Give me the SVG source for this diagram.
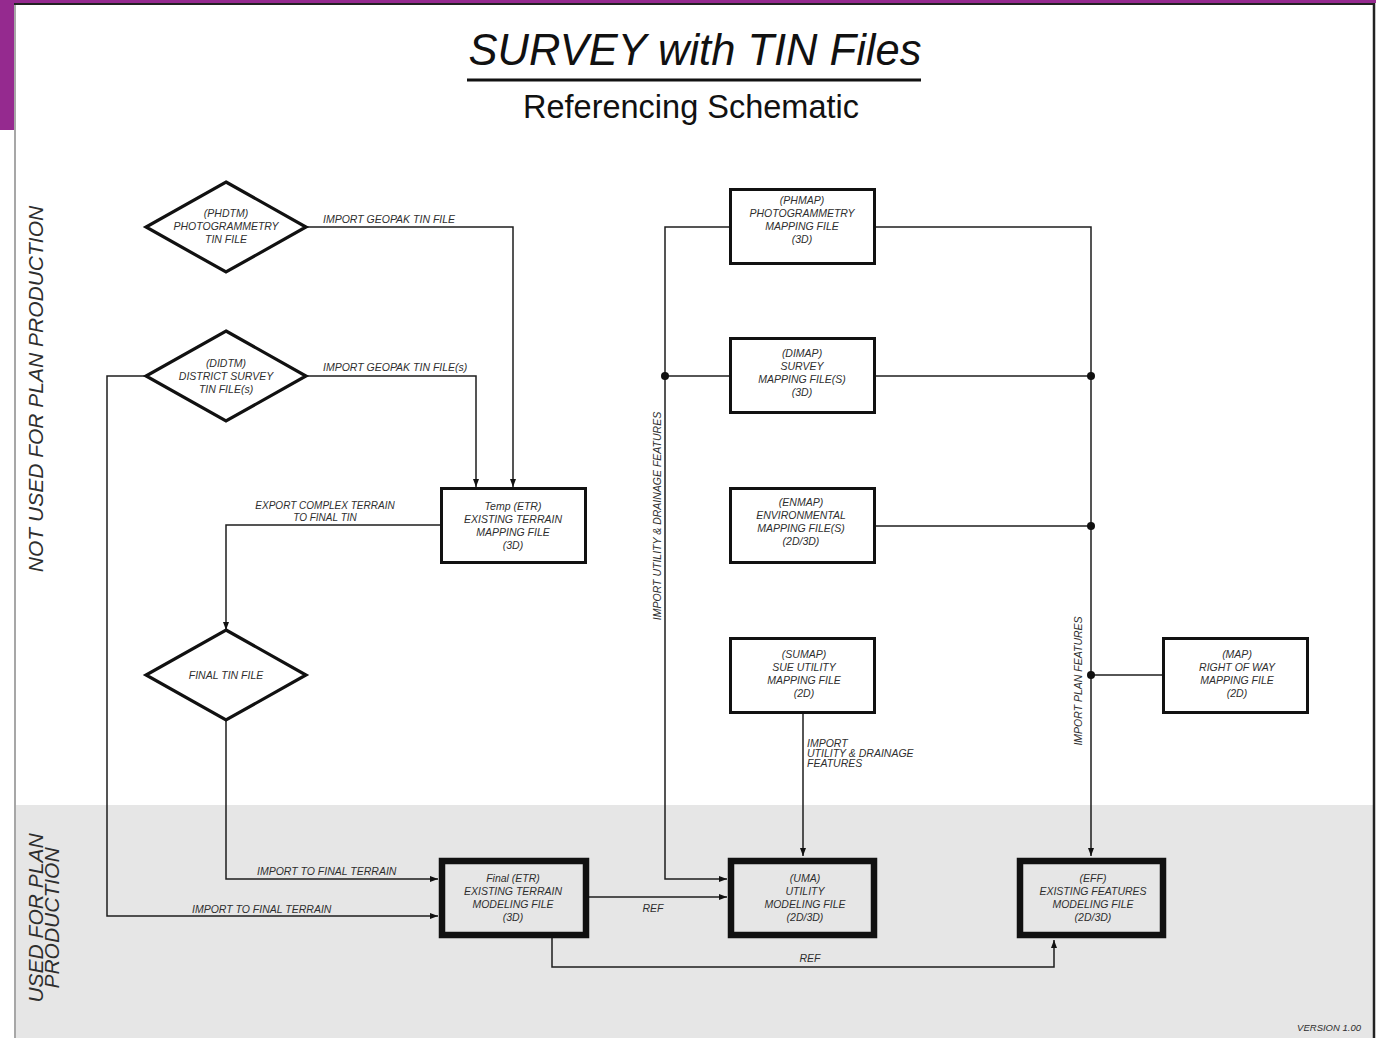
<svg xmlns="http://www.w3.org/2000/svg" width="1386" height="1038" viewBox="0 0 1386 1038">
<defs>
<style>
.t{font-family:"Liberation Sans",Arial,sans-serif;font-style:italic;fill:#2e2e2e;}
.n{font-size:10.5px;text-anchor:middle;}
.l{font-size:10.5px;}
.ln{fill:none;stroke:#1e1e1e;stroke-width:1.5;}
.dia{fill:#fff;stroke:#111;stroke-width:3.2;stroke-linejoin:miter;}
.box{fill:#fff;stroke:#111;stroke-width:3;}
.tbox{fill:#e6e6e6;stroke:#111;stroke-width:6.5;}
.dot{fill:#111;}
</style>
<marker id="ar" viewBox="0 0 8 6" refX="8" refY="3" markerWidth="8" markerHeight="6" markerUnits="userSpaceOnUse" orient="auto">
<path d="M0,0 L8,3 L0,6 z" fill="#111"/>
</marker>
</defs>
<rect x="0" y="0" width="1386" height="1038" fill="#fff"/>
<rect x="16" y="805" width="1357" height="233" fill="#e6e6e6"/>
<rect x="0" y="0" width="1376" height="3" fill="#952a8f"/>
<rect x="0" y="0" width="14" height="130" fill="#952a8f"/>
<line x1="15" y1="4" x2="15" y2="1038" stroke="#8a8a8a" stroke-width="1.5"/>
<line x1="14" y1="4" x2="1375" y2="4" stroke="#222" stroke-width="2"/>
<line x1="1374" y1="3" x2="1374" y2="1038" stroke="#222" stroke-width="2.5"/>

<g id="title">
<text class="t" x="695" y="65" font-size="43.5" text-anchor="middle" style="fill:#111">SURVEY with TIN Files</text>
<line x1="467" y1="80" x2="921" y2="80" stroke="#111" stroke-width="3"/>
<text x="691" y="118" font-family="Liberation Sans, Arial, sans-serif" font-size="32.5" text-anchor="middle" fill="#111">Referencing Schematic</text>
</g>
<g id="zones">
<text class="t" transform="translate(43,389) rotate(-90)" font-size="21" text-anchor="middle">NOT USED FOR PLAN PRODUCTION</text>
<text class="t" transform="translate(43,918) rotate(-90)" font-size="21" text-anchor="middle">USED FOR PLAN</text>
<text class="t" transform="translate(59,918) rotate(-90)" font-size="21" text-anchor="middle">PRODUCTION</text>
<text class="t" x="1361" y="1031" font-size="9.5" text-anchor="end">VERSION 1.00</text>
</g>

<g id="connectors">
<path class="ln" d="M306,227 H513 V487" marker-end="url(#ar)"/>
<path class="ln" d="M306,376 H476 V487" marker-end="url(#ar)"/>
<path class="ln" d="M441,525 H226 V630" marker-end="url(#ar)"/>
<path class="ln" d="M226,720 V879 H438" marker-end="url(#ar)"/>
<path class="ln" d="M146,376 H107 V916 H438" marker-end="url(#ar)"/>
<path class="ln" d="M589,897 H727" marker-end="url(#ar)"/>
<path class="ln" d="M552,938 V967 H1054 V940" marker-end="url(#ar)"/>
<path class="ln" d="M730,227 H665 V879 H727" marker-end="url(#ar)"/>
<path class="ln" d="M730,376 H665"/>
<path class="ln" d="M803,713 V856" marker-end="url(#ar)"/>
<path class="ln" d="M875,227 H1091 V856" marker-end="url(#ar)"/>
<path class="ln" d="M875,376 H1091"/>
<path class="ln" d="M875,526 H1091"/>
<path class="ln" d="M1163,675 H1091"/>
<circle class="dot" cx="665" cy="376" r="4"/>
<circle class="dot" cx="1091" cy="376" r="4"/>
<circle class="dot" cx="1091" cy="526" r="4"/>
<circle class="dot" cx="1091" cy="675" r="4"/>
<text class="t l" x="323" y="223">IMPORT GEOPAK TIN FILE</text>
<text class="t l" x="323" y="371">IMPORT GEOPAK TIN FILE(s)</text>
<text class="t" x="325" y="509" font-size="10" text-anchor="middle">EXPORT COMPLEX TERRAIN</text>
<text class="t" x="325" y="520.5" font-size="10" text-anchor="middle">TO FINAL TIN</text>
<text class="t l" x="257" y="875">IMPORT TO FINAL TERRAIN</text>
<text class="t l" x="192" y="913">IMPORT TO FINAL TERRAIN</text>
<text class="t l" x="653" y="912" text-anchor="middle">REF</text>
<text class="t l" x="810" y="962" text-anchor="middle">REF</text>
<text class="t l" x="807" y="747">IMPORT</text>
<text class="t l" x="807" y="757">UTILITY &amp; DRAINAGE</text>
<text class="t l" x="807" y="767">FEATURES</text>
<text class="t l" transform="translate(661,516) rotate(-90)" text-anchor="middle">IMPORT UTILITY &amp; DRAINAGE FEATURES</text>
<text class="t l" transform="translate(1082,681) rotate(-90)" text-anchor="middle">IMPORT PLAN FEATURES</text>
</g>

<g id="phdtm">
<polygon class="dia" points="226,182 306,227 226,272 146,227"/>
<text class="t n" x="226" y="217">(PHDTM)</text>
<text class="t n" x="226" y="230">PHOTOGRAMMETRY</text>
<text class="t n" x="226" y="243">TIN FILE</text>
</g>
<g id="didtm">
<polygon class="dia" points="226,331 306,376 226,421 146,376"/>
<text class="t n" x="226" y="367">(DIDTM)</text>
<text class="t n" x="226" y="380">DISTRICT SURVEY</text>
<text class="t n" x="226" y="393">TIN FILE(s)</text>
</g>
<g id="finaltin">
<polygon class="dia" points="226,630 306,675 226,720 146,675"/>
<text class="t n" x="226" y="679">FINAL TIN FILE</text>
</g>
<g id="temp-etr">
<rect class="box" x="441.5" y="488.5" width="144" height="74"/>
<text class="t n" x="513" y="510">Temp (ETR)</text>
<text class="t n" x="513" y="523">EXISTING TERRAIN</text>
<text class="t n" x="513" y="536">MAPPING FILE</text>
<text class="t n" x="513" y="549">(3D)</text>
</g>
<g id="final-etr">
<rect class="tbox" x="442" y="861" width="144" height="74"/>
<text class="t n" x="513" y="882">Final (ETR)</text>
<text class="t n" x="513" y="895">EXISTING TERRAIN</text>
<text class="t n" x="513" y="908">MODELING FILE</text>
<text class="t n" x="513" y="921">(3D)</text>
</g>
<g id="phmap">
<rect class="box" x="730.5" y="189.5" width="144" height="74"/>
<text class="t n" x="802" y="204">(PHMAP)</text>
<text class="t n" x="802" y="217">PHOTOGRAMMETRY</text>
<text class="t n" x="802" y="230">MAPPING FILE</text>
<text class="t n" x="802" y="243">(3D)</text>
</g>
<g id="dimap">
<rect class="box" x="730.5" y="338.5" width="144" height="74"/>
<text class="t n" x="802" y="357">(DIMAP)</text>
<text class="t n" x="802" y="370">SURVEY</text>
<text class="t n" x="802" y="383">MAPPING FILE(S)</text>
<text class="t n" x="802" y="396">(3D)</text>
</g>
<g id="enmap">
<rect class="box" x="730.5" y="488.5" width="144" height="74"/>
<text class="t n" x="801" y="506">(ENMAP)</text>
<text class="t n" x="801" y="519">ENVIRONMENTAL</text>
<text class="t n" x="801" y="532">MAPPING FILE(S)</text>
<text class="t n" x="801" y="545">(2D/3D)</text>
</g>
<g id="sumap">
<rect class="box" x="730.5" y="638.5" width="144" height="74"/>
<text class="t n" x="804" y="658">(SUMAP)</text>
<text class="t n" x="804" y="671">SUE UTILITY</text>
<text class="t n" x="804" y="684">MAPPING FILE</text>
<text class="t n" x="804" y="697">(2D)</text>
</g>
<g id="uma">
<rect class="tbox" x="731" y="861" width="143" height="74"/>
<text class="t n" x="805" y="882">(UMA)</text>
<text class="t n" x="805" y="895">UTILITY</text>
<text class="t n" x="805" y="908">MODELING FILE</text>
<text class="t n" x="805" y="921">(2D/3D)</text>
</g>
<g id="eff">
<rect class="tbox" x="1020" y="861" width="143" height="74"/>
<text class="t n" x="1093" y="882">(EFF)</text>
<text class="t n" x="1093" y="895">EXISTING FEATURES</text>
<text class="t n" x="1093" y="908">MODELING FILE</text>
<text class="t n" x="1093" y="921">(2D/3D)</text>
</g>
<g id="map">
<rect class="box" x="1163.5" y="638.5" width="144" height="74"/>
<text class="t n" x="1237" y="658">(MAP)</text>
<text class="t n" x="1237" y="671">RIGHT OF WAY</text>
<text class="t n" x="1237" y="684">MAPPING FILE</text>
<text class="t n" x="1237" y="697">(2D)</text>
</g>
</svg>
